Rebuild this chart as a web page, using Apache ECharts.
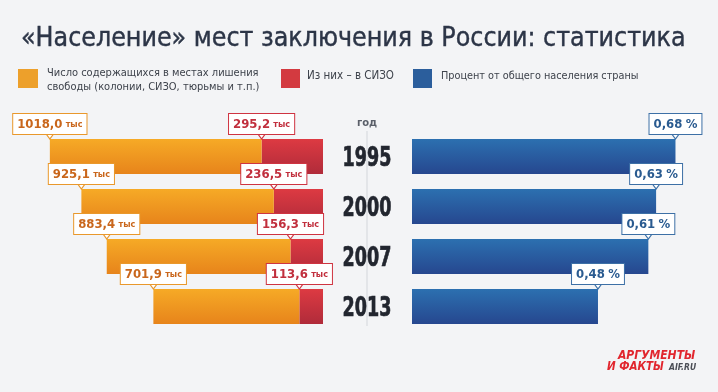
<!DOCTYPE html>
<html><head><meta charset="utf-8">
<script src="https://cdn.jsdelivr.net/npm/echarts@6/dist/echarts.min.js"></script>
<style>html,body{margin:0;padding:0;background:#F3F4F6;}#c{width:718px;height:392px;}</style>
</head><body><div id="c"></div>
<script>
var years = ['1995', '2000', '2007', '2013'];
var totalPrisoners = [1018.0, 925.1, 883.4, 701.9];   // тыс
var inSIZO = [295.2, 236.5, 156.3, 113.6];            // тыс
var percentPop = [0.68, 0.63, 0.61, 0.48];            // %

var F = '"DejaVu Sans Condensed",sans-serif';
function fmt(v, d) { return v.toFixed(d).replace('.', ','); }

var ORANGE = {type:'linear',x:0,y:0,x2:0,y2:1,colorStops:[{offset:0,color:'#F6AA26'},{offset:1,color:'#E7841B'}]};
var RED = {type:'linear',x:0,y:0,x2:0,y2:1,colorStops:[{offset:0,color:'#DD3A42'},{offset:1,color:'#B02B3A'}]};
var BLUE = {type:'linear',x:0,y:0,x2:0,y2:1,colorStops:[{offset:0,color:'#2C70B0'},{offset:1,color:'#26478F'}]};

var BW = 35;
function callout(name, xi, yi, data, color, textColor, formatter) {
  return {
    name: name, type: 'scatter', xAxisIndex: xi, yAxisIndex: yi, z: 10,
    symbol: 'triangle', symbolRotate: 180, symbolSize: [9, 6],
    symbolOffset: [0, -(BW / 2 + 3)],
    itemStyle: {color: '#fff', borderColor: color, borderWidth: 1, opacity: 1},
    label: {
      show: true, position: 'top', distance: -1.5, formatter: formatter,
      backgroundColor: '#fff', borderColor: color, borderWidth: 1,
      padding: [3, 4, 2, 4],
      rich: {
        n: {fontFamily: F, fontWeight: 'bold', fontSize: 13, color: textColor, lineHeight: 15},
        u: {fontFamily: F, fontWeight: 'bold', fontSize: 9, color: textColor, lineHeight: 15}
      }
    },
    data: data
  };
}

var chart = echarts.init(document.getElementById('c'));
chart.setOption({
  backgroundColor: '#F3F4F6',
  animation: false,
  grid: [
    {left: 11, width: 312, top: 131.5, height: 200},
    {left: 412, width: 290.6, top: 131.5, height: 200}
  ],
  xAxis: [
    {gridIndex: 0, type: 'value', inverse: true, min: 0, max: 1500, show: false},
    {gridIndex: 1, type: 'value', min: 0, max: 0.75, show: false}
  ],
  yAxis: [
    {gridIndex: 0, type: 'category', inverse: true, data: years, show: false},
    {gridIndex: 1, type: 'category', inverse: true, data: years, show: false}
  ],
  series: [
    {name: 'Из них – в СИЗО', type: 'bar', stack: 'a', xAxisIndex: 0, yAxisIndex: 0, barWidth: BW,
     itemStyle: {color: RED, shadowColor: 'rgba(0,0,0,0.18)', shadowBlur: 3, shadowOffsetY: 1}, data: inSIZO},
    {name: 'Число содержащихся', type: 'bar', stack: 'a', xAxisIndex: 0, yAxisIndex: 0, barWidth: BW,
     itemStyle: {color: ORANGE, shadowColor: 'rgba(0,0,0,0.18)', shadowBlur: 3, shadowOffsetY: 1}, data: totalPrisoners},
    {name: 'Процент', type: 'bar', xAxisIndex: 1, yAxisIndex: 1, barWidth: BW,
     itemStyle: {color: BLUE, shadowColor: 'rgba(0,0,0,0.18)', shadowBlur: 3, shadowOffsetY: 1}, data: percentPop},
    callout('lblTotal', 0, 0, years.map(function (y, i) { return [totalPrisoners[i] + inSIZO[i], y, totalPrisoners[i]]; }),
      '#E9982C', '#C9661B', function (p) { return '{n|' + fmt(p.value[2], 1) + '} {u|тыс}'; }),
    callout('lblSIZO', 0, 0, years.map(function (y, i) { return [inSIZO[i], y]; }),
      '#CF3441', '#C12F3D', function (p) { return '{n|' + fmt(p.value[0], 1) + '} {u|тыс}'; }),
    callout('lblPct', 1, 1, years.map(function (y, i) { return [percentPop[i], y]; }),
      '#3D70A6', '#2A5B90', function (p) { return '{n|' + fmt(p.value[0], 2) + '} {n|%}'; })
  ]
});

var g = [
  {type: 'text', x: 21, y: 39, style: {text: '«Население» мест заключения в России: статистика', fontFamily: F, fontSize: 26.5, fill: '#2C3547', stroke: '#2C3547', lineWidth: 0.4, verticalAlign: 'middle'}},
  {type: 'line', z: -1, shape: {x1: 367, y1: 131, x2: 367, y2: 326}, style: {stroke: '#D3D6DB', lineWidth: 1}},
  {type: 'text', x: 367, y: 123, style: {text: 'год', fontFamily: '"DejaVu Sans",sans-serif', fontWeight: 'bold', fontSize: 10, fill: '#5A5F69', align: 'center', verticalAlign: 'middle'}},
  {type: 'rect', shape: {x: 18, y: 69, width: 20, height: 19}, style: {fill: '#EDA02B'}},
  {type: 'text', x: 47, y: 66, style: {text: 'Число содержащихся в местах лишения\nсвободы (колонии, СИЗО, тюрьмы и т.п.)', fontFamily: F, fontSize: 11, lineHeight: 14, fill: '#3D424B'}},
  {type: 'rect', shape: {x: 281, y: 69, width: 19, height: 19}, style: {fill: '#D33A40'}},
  {type: 'text', x: 307, y: 76, style: {text: 'Из них – в СИЗО', fontFamily: F, fontSize: 11.5, fill: '#3D424B', verticalAlign: 'middle'}},
  {type: 'rect', shape: {x: 413, y: 69, width: 19, height: 19}, style: {fill: '#2B5E9C'}},
  {type: 'text', x: 441, y: 76, style: {text: 'Процент от общего населения страны', fontFamily: F, fontSize: 10.8, fill: '#3D424B', verticalAlign: 'middle'}},
  {type: 'text', x: 618, y: 350, style: {text: 'АРГУМЕНТЫ', fontFamily: F, fontStyle: 'italic', fontWeight: 'bold', fontSize: 12, fill: '#E1262E'}},
  {type: 'text', x: 607, y: 361, style: {text: 'И ФАКТЫ', fontFamily: F, fontStyle: 'italic', fontWeight: 'bold', fontSize: 11.5, fill: '#E1262E'}},
  {type: 'text', x: 669, y: 363.5, style: {text: 'AIF.RU', fontFamily: F, fontStyle: 'italic', fontWeight: 'bold', fontSize: 8.5, fill: '#4A4D55'}}
];
years.forEach(function (y) {
  var py = chart.convertToPixel({yAxisIndex: 1}, y);
  g.push({type: 'text', x: 367, y: py + 2, scaleY: 1.4, z: 5,
    style: {text: y, fontFamily: F, fontWeight: 'bold', fontSize: 19.5, fill: '#22262F', stroke: '#22262F', lineWidth: 0.5, align: 'center', verticalAlign: 'middle'}});
});
chart.setOption({graphic: g});
</script></body></html>
